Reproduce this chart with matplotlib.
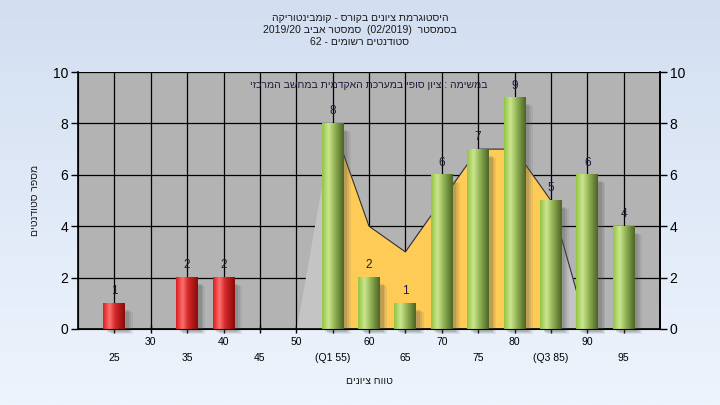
import re
import numpy as np
import matplotlib
matplotlib.use("Agg")
import matplotlib.pyplot as plt
from matplotlib.colors import LinearSegmentedColormap
from matplotlib.patches import Rectangle

plt.rcParams['font.family'] = ['Liberation Sans', 'DejaVu Sans']

# ---------------- data ----------------
title_lines = ["היסטוגרמת ציונים בקורס - קומבינטוריקה",
               "בסמסטר  (02/2019)  סמסטר אביב 2019/20",
               "סטודנטים רשומים - 62"]
note_text = "במשימה : ציון סופי במערכת האקדמית במחשב המרכזי"
xlabel_text = "טווח ציונים"
ylabel_text = "מספר סטודנטים"

red_x = [25, 35, 40]
red_counts = [1, 2, 2]
green_x = [55, 60, 65, 70, 75, 80, 85, 90, 95]
green_counts = [8, 2, 1, 6, 7, 9, 5, 6, 4]

curve_x = [50, 55, 60, 65, 70, 75, 80, 85, 90, 95]
curve_y = [0, 8, 4, 3, 5, 7, 7, 5, 0, 0]
iqr_x = [55, 60, 65, 70, 75, 80, 85]
iqr_y = [8, 4, 3, 5, 7, 7, 5]

tick_pos = [25, 30, 35, 40, 45, 50, 55, 60, 65, 70, 75, 80, 85, 90, 95]
tick_text = ["25", "30", "35", "40", "45", "50", "(Q1 55)", "60", "65",
             "70", "75", "80", "(Q3 85)", "90", "95"]
y_ticks = [0, 2, 4, 6, 8, 10]


def rtl(s):
    """Convert a logical-order RTL string to visual (left-to-right) order."""
    toks = re.findall(r'[0-9A-Za-z][0-9A-Za-z/.]*[0-9A-Za-z]|[0-9A-Za-z]|.', s)
    mirror = {'(': ')', ')': '('}
    return ''.join(mirror.get(t, t) for t in reversed(toks))


W, H = 720, 405
fig = plt.figure(figsize=(W / 100, H / 100), dpi=100)

# background gradient
bg = fig.add_axes([0, 0, 1, 1], zorder=-5)
grad = np.linspace(0, 1, 256).reshape(-1, 1)
bg_cmap = LinearSegmentedColormap.from_list('bg', ['#d2dff1', '#eef4fd'])
bg.imshow(grad, cmap=bg_cmap, aspect='auto', extent=[0, 1, 0, 1], origin='upper')
bg.set_axis_off()

L, R, T, B = 78, 660, 72, 329
ax = fig.add_axes([L / W, (H - B) / H, (R - L) / W, (B - T) / H])
ax.set_facecolor('#b3b3b3')
ax.set_axisbelow(True)

# areas
ax.fill_between(curve_x, curve_y, 0, color='#c4c4c4', lw=0, zorder=1)
ax.fill_between(iqr_x, iqr_y, 0, color='#ffcb57', lw=0, zorder=1.2)
ax.plot(curve_x[1:], curve_y[1:], color='#303030', lw=0.8, zorder=1.5)

bw = 3.0
green_cmap = LinearSegmentedColormap.from_list(
    'g', [(0, '#93c341'), (0.3, '#cbe690'), (0.55, '#97b95a'), (1, '#4a6322')])
red_cmap = LinearSegmentedColormap.from_list(
    'r', [(0, '#d91c1c'), (0.3, '#ff7070'), (0.55, '#d42828'), (1, '#8a0a0a')])


def draw_bars(xs, hs, cmap, base):
    bars = ax.bar(xs, hs, width=bw, color=base, lw=0, zorder=4)
    img = np.linspace(0, 1, 256).reshape(1, -1)
    for b in bars:
        x0, w, h = b.get_x(), b.get_width(), b.get_height()
        if h <= 0:
            continue
        # soft shadow
        for k, a in enumerate([0.18, 0.14, 0.10]):
            ax.add_patch(Rectangle((x0 + 0.5 + k * 0.25, -0.10 - k * 0.04),
                                   w, h - 0.15, facecolor='#505050', alpha=a,
                                   lw=0, zorder=3, clip_on=False))
        ax.imshow(img, cmap=cmap, extent=[x0, x0 + w, 0, h], aspect='auto',
                  interpolation='bicubic', zorder=4.5)
        ax.text(x0 + w / 2, h + 0.24, f"{int(h)}", ha='center', va='bottom',
                fontsize=8.5, color='#1c1c3c', zorder=6)


draw_bars(red_x, red_counts, red_cmap, '#d42828')
draw_bars(green_x, green_counts, green_cmap, '#97b95a')

ax.set_xlim(20, 100)
ax.set_ylim(0, 10)
ax.grid(True, color='black', lw=0.9)

ax.set_xticks(tick_pos)
ax.set_xticklabels([t if i % 2 == 1 else "\n" + t for i, t in enumerate(tick_text)],
                   fontsize=7.5, linespacing=1.75)
ax.tick_params(axis='x', direction='inout', length=6, width=1, pad=3)
ax.set_yticks(y_ticks)
ax.tick_params(axis='y', direction='out', length=5, width=1, labelsize=10, pad=2)
for s in ['top']:
    ax.spines[s].set_visible(False)
for s in ['left', 'right', 'bottom']:
    ax.spines[s].set_color('black')
    ax.spines[s].set_linewidth(1.2)

ax2 = ax.twinx()
ax2.set_ylim(0, 10)
ax2.set_yticks(y_ticks)
ax2.tick_params(axis='y', direction='out', length=5, width=1, labelsize=10, pad=2)
ax2.spines['top'].set_visible(False)
ax2.spines['right'].set_linewidth(1.2)

ax.text(60, 9.5, rtl(note_text), ha='center', va='center', fontsize=7.5,
        color='#1c1c3c', zorder=7)

for i, line in enumerate(title_lines):
    fig.text(0.5, 1 - (18 + 12 * i) / H, rtl(line), ha='center', va='center',
             fontsize=7.5, color='#1a1a1a')

fig.text(369 / W, 1 - 381 / H, rtl(xlabel_text), ha='center', va='center',
         fontsize=7.5, color='#1a1a1a')
fig.text(35 / W, 1 - 200 / H, rtl(ylabel_text), ha='center', va='center',
         fontsize=7.5, rotation=90, color='#1a1a1a')

fig.savefig('out.png', dpi=100)
